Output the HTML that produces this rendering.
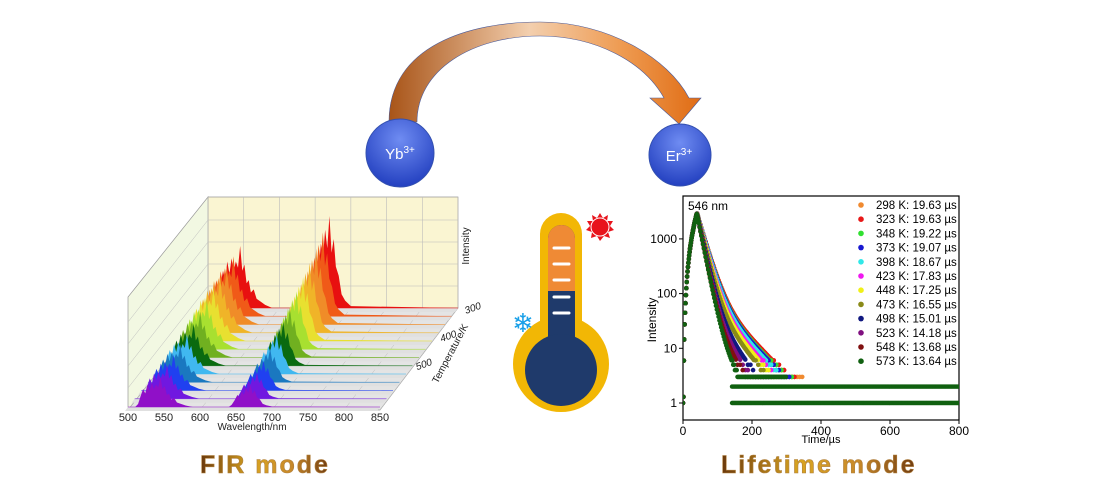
<!DOCTYPE html>
<html><head><meta charset="utf-8">
<style>
body{margin:0;background:#fff;}
svg{display:block;font-family:"Liberation Sans",sans-serif;}
</style></head>
<body>
<svg id="root" width="1094" height="500" viewBox="0 0 1094 500" xmlns="http://www.w3.org/2000/svg">
<defs>
 <linearGradient id="arrowGrad" x1="0" y1="0" x2="1" y2="0">
  <stop offset="0" stop-color="#a85418"/><stop offset="0.45" stop-color="#f3cfae"/><stop offset="0.75" stop-color="#ee9a50"/><stop offset="1" stop-color="#e06c14"/>
 </linearGradient>
 <radialGradient id="ballGrad" cx="0.5" cy="0.3" r="0.7">
  <stop offset="0" stop-color="#6f8cf2"/><stop offset="1" stop-color="#2340c0"/>
 </radialGradient>
 <linearGradient id="titleGrad" x1="0" y1="0" x2="1" y2="0">
  <stop offset="0" stop-color="#6a380c"/><stop offset="0.4" stop-color="#d9a520"/><stop offset="0.7" stop-color="#c98a2a"/><stop offset="1" stop-color="#6e3a10"/>
 </linearGradient>
</defs>

<path d="M389,122 C389,45 470,22 540,22 C608,22 668,58 689,98 L701,98 L679,124 L650,98 L664,98 C644,62 596,36 540,36 C472,36 417,70 417,122 Z" fill="url(#arrowGrad)" stroke="#4a5a9a" stroke-width="0.6"/>
<g>
 <circle cx="400" cy="153" r="34" fill="url(#ballGrad)" stroke="#3350b0" stroke-width="1"/>
 <text x="400" y="159" text-anchor="middle" fill="#fff" font-size="15">Yb<tspan font-size="10" dy="-6">3+</tspan></text>
</g>
<g>
 <circle cx="680" cy="155" r="31" fill="url(#ballGrad)" stroke="#3350b0" stroke-width="1"/>
 <text x="679" y="161" text-anchor="middle" fill="#fff" font-size="15">Er<tspan font-size="10" dy="-6">3+</tspan></text>
</g>

<g>
 <rect x="540" y="213" width="42" height="150" rx="21" fill="#f2b705"/>
 <circle cx="561" cy="364" r="48" fill="#f2b705"/>
 <rect x="548" y="225" width="27" height="150" rx="13.5" fill="#1f3a6b"/>
 <path d="M548,291 L548,238.5 A13.5,13.5 0 0 1 575,238.5 L575,291 Z" fill="#ef8a35"/>
 <circle cx="561" cy="370" r="36" fill="#1f3a6b"/>
 <g stroke="#fff" stroke-width="3" stroke-linecap="round">
  <line x1="554" y1="248" x2="569" y2="248"/><line x1="554" y1="264" x2="569" y2="264"/><line x1="554" y1="280" x2="569" y2="280"/><line x1="554" y1="297" x2="569" y2="297"/><line x1="554" y1="313" x2="569" y2="313"/>
 </g>
</g>
<g>
 <polygon points="600,213 603,218 608,215 607,221 613,221 610,226 614,230 608,232 610,238 604,236 600,241 597,236 591,238 592,232 586,230 590,226 587,221 593,221 592,215 597,218" fill="#e8141c"/>
 <circle cx="600" cy="227" r="9" fill="#e8141c" stroke="#fff" stroke-width="1"/>
</g>
<text x="523" y="332" text-anchor="middle" font-family="DejaVu Sans" font-size="26" fill="#1aa0e8">❄</text>

<g id="fir"></g>
<g id="lt"></g>

<text x="200" y="473" font-size="25" font-weight="bold" letter-spacing="2" fill="url(#titleGrad)" stroke="#b08040" stroke-width="0.6">FIR mode</text>
<text x="721" y="473" font-size="25" font-weight="bold" letter-spacing="2" fill="url(#titleGrad)" stroke="#b08040" stroke-width="0.6">Lifetime mode</text>
</svg>

<script>
var NS="http://www.w3.org/2000/svg";
function mk(tag,attrs,parent,txt){var e=document.createElementNS(NS,tag);for(var k in attrs)e.setAttribute(k,attrs[k]);if(txt!==undefined)e.textContent=txt;parent.appendChild(e);return e;}

/* ---------- FIR 3D spectra data ---------- */
var firWaveTicks=[500,550,600,650,700,750,800,850];
var firTempTicks=[300,400,500];
var firRowColors=["#e81010","#f05a18","#f08c28","#f0b428","#e8e030","#a8e030","#70b020","#0a6a10","#40b8f0","#1a78c0","#2040f0","#7018e0","#9010c8"];
var firGreenScale=[62,60,58,56,54,50,46,42,40,38,36,34,30];
var firRedScale=[92,84,76,70,64,58,50,44,40,34,30,26,22];
var firWl=[500,510,514,518,521,524,527,530,533,536,539,542,545,548,551,554,557,560,564,568,574,580,590,640,644,648,652,655,658,661,664,667,670,673,676,679,683,687,692,700,850];
var firProfileG=[0,0,0.1,0.4,0.6,0.45,0.75,0.55,0.8,0.6,0.75,0.65,1.0,0.6,0.7,0.4,0.45,0.25,0.3,0.15,0.1,0.05,0,0,0,0,0,0,0,0,0,0,0,0,0,0,0,0,0,0,0];
var firProfileR=[0,0,0,0,0,0,0,0,0,0,0,0,0,0,0,0,0,0,0,0,0,0,0,0,0.1,0.3,0.55,0.4,0.7,0.55,0.85,0.65,1.0,0.6,0.75,0.45,0.35,0.15,0.08,0.02,0];

(function(){
 var g=document.getElementById('fir');
 var back={l:208,r:458,t:197,b:308}, front={l:128,r:380,t:297,b:410};
 var nRows=firRowColors.length;
 function rowBase(i){var f=i/(nRows-1);return {y:back.b+f*(407-back.b), x0:back.l+f*(front.l-back.l), x1:back.r+f*(front.r-back.r)};}
 function X(row,nm){var b=rowBase(row);return b.x0+(nm-500)/350*(b.x1-b.x0);}
 var w=mk('polygon',{points:[back.l,back.t,back.r,back.t,back.r,back.b,back.l,back.b].join(','),fill:'#faf5d2',stroke:'#999','stroke-width':0.7},g);
 
 
 var lw=mk('polygon',{points:[back.l,back.t,back.l,back.b,front.l,front.b,front.l,front.t].join(','),fill:'#f2f8e2',stroke:'#999','stroke-width':0.7},g);
 
 
 var fl=mk('polygon',{points:[back.l,back.b,back.r,back.b,front.r,front.b,front.l,front.b].join(','),fill:'#e4e4e4',stroke:'#999','stroke-width':0.7},g);
 
 
 for(var i=0;i<firWaveTicks.length;i++){var x=back.l+(firWaveTicks[i]-500)/350*(back.r-back.l);mk('line',{x1:x,y1:back.t,x2:x,y2:back.b,stroke:'#bbb','stroke-width':0.6},g);
   var xf=front.l+(firWaveTicks[i]-500)/350*(front.r-front.l);mk('line',{x1:x,y1:back.b,x2:xf,y2:front.b,stroke:'#bbb','stroke-width':0.5},g);}
 for(var k=1;k<5;k++){var y=back.b-k*22;mk('line',{x1:back.l,y1:y,x2:back.r,y2:y,stroke:'#bbb','stroke-width':0.6},g);
   mk('line',{x1:back.l,y1:y,x2:front.l,y2:y+(front.b-back.b),stroke:'#bbb','stroke-width':0.5},g);}
 for(var r=0;r<nRows;r++){
  var b=rowBase(r);
  var pts=[];
  for(var j=0;j<firWl.length;j++){var h=firProfileG[j]*firGreenScale[r]+firProfileR[j]*firRedScale[r];pts.push(X(r,firWl[j])+','+(b.y-h));}
  pts.push(X(r,850)+','+b.y);pts.push(X(r,500)+','+b.y);
  var rib=mk('polygon',{points:[X(r,500),b.y,X(r,850),b.y,X(r,850)-3,b.y+4,X(r,500)-3,b.y+4].join(','),fill:'#e0e0e0'},g);
  
  
  var sp=mk('polygon',{points:pts.join(' '),fill:firRowColors[r]},g);
  
  
  mk('line',{x1:X(r,500),y1:b.y,x2:X(r,850),y2:b.y,stroke:firRowColors[r],'stroke-width':0.8,opacity:0.7},g);
 }
 for(var i=0;i<firWaveTicks.length;i++){var x=front.l+(firWaveTicks[i]-500)/350*(front.r-front.l);
  var t=mk('text',{x:x,y:421,'text-anchor':'middle','font-size':11,fill:'#222'},g,firWaveTicks[i]);
  
  }
 var xt=mk('text',{x:252,y:430,'text-anchor':'middle','font-size':10,fill:'#222'},g,'Wavelength/nm');
 
 
 for(var i=0;i<firTempTicks.length;i++){var f=(firTempTicks[i]-300)/270;var x=466-f*(466-400),y=314+f*(414-314)*0.76;
  var t=mk('text',{x:x,y:y,'font-size':10,'font-style':'italic',fill:'#222',transform:'rotate(-20 '+x+' '+y+')'},g,firTempTicks[i]);
  
  }
 var tt=mk('text',{x:0,y:0,'font-size':10,fill:'#222','text-anchor':'middle',transform:'translate(453,355) rotate(-62)'},g,'Temperature/K');
 
 
 var it=mk('text',{x:0,y:0,'font-size':10,fill:'#222','text-anchor':'middle',transform:'translate(469,246) rotate(-90)'},g,'Intensity');
 
 
})();

/* ---------- Lifetime chart data ---------- */
var ltTemps=[298,323,348,373,398,423,448,473,498,523,548,573];
var ltLifetimes=[19.63,19.63,19.22,19.07,18.67,17.83,17.25,16.55,15.01,14.18,13.68,13.64];
var ltColors=["#f08a30","#e81818","#30e030","#1818d0","#30e8e8","#f018f0","#f0f018","#8a8a18","#101880","#801080","#801010","#106010"];
var ltPeak=[2900,2900,2900,2900,2900,2900,2900,2900,2900,2900,2900,2900];
var ltTailFrac=[0.05,0.05,0.048,0.046,0.044,0.042,0.04,0.036,0.03,0.025,0.02,0.012];
var ltTailCutoff=[350,330,320,310,300,290,280,270,260,250,240,300];
var ltXTicks=[0,200,400,600,800];
var ltYTicks=[1,10,100,1000];

(function(){
 var g=document.getElementById('lt');
 var L=683,R=959,T=196,B=420;
 function X(t){return L+(t/800)*(R-L);}
 function Y(v){return 403-54.7*Math.log10(v);}
 var frame=mk('rect',{x:L,y:T,width:R-L,height:B-T,fill:'#fff',stroke:'#000','stroke-width':1.2},g);
 
 
 var clip=mk('clipPath',{id:'ltclip'},g);mk('rect',{x:L,y:T,width:R-L,height:B-T},clip);
 var pg=mk('g',{'clip-path':'url(#ltclip)'},g);
 var floorLevels=[1,2];
 for(var f=0;f<floorLevels.length;f++){
  for(var t=142;t<=800;t+=2.5){
   var d=mk('circle',{cx:X(t),cy:Y(floorLevels[f]),r:2.2,fill:ltColors[11]},pg);
   
   
  }
 }
 for(var s=0;s<ltTemps.length;s++){
  var tau=ltLifetimes[s],pk=ltPeak[s];
  var step=0;
  for(var t=0;t<=800;t+=(t<45?1.2:2.5)){
   step++;
   var v;
   if(t<40){v=Math.max(1,pk*Math.pow(t/40,2.2));}
   else{v=pk*Math.exp(-(t-40)/tau)+ltTailFrac[s]*pk*Math.exp(-(t-40)/(3.5*tau));}
   if(v<6 && t>40){ if(t>ltTailCutoff[s]) break; v=Math.max(3,Math.round(v)); if(step%3!==0 && s!==11) continue;}
   var d=mk('circle',{cx:X(t),cy:Y(v),r:2.3,fill:ltColors[s]},pg);
   
   
  }
 }
 for(var i=0;i<ltXTicks.length;i++){var x=X(ltXTicks[i]);mk('line',{x1:x,y1:B,x2:x,y2:B+4,stroke:'#000'},g);
  var t=mk('text',{x:x,y:B+15,'text-anchor':'middle','font-size':12,fill:'#000'},g,ltXTicks[i]);
  
  }
 for(var i=0;i<ltYTicks.length;i++){var y=Y(ltYTicks[i]);mk('line',{x1:L-4,y1:y,x2:L,y2:y,stroke:'#000'},g);
  var t=mk('text',{x:L-6,y:y+4,'text-anchor':'end','font-size':12,fill:'#000'},g,ltYTicks[i]);
  
  }
 var xt=mk('text',{x:821,y:443,'text-anchor':'middle','font-size':11,fill:'#000'},g,'Time/µs');
 
 
 var yt=mk('text',{x:0,y:0,'text-anchor':'middle','font-size':12,fill:'#000',transform:'translate(656,320) rotate(-90)'},g,'Intensity');
 
 
 var ann=mk('text',{x:688,y:210,'font-size':12,fill:'#000'},g,'546 nm');
 
 
 for(var i=0;i<ltTemps.length;i++){
  var y=205+i*14.2;
  var d=mk('circle',{cx:861,cy:y,r:2.8,fill:ltColors[i]},g);
  
  
  var t=mk('text',{x:876,y:y+4,'font-size':11.5,fill:'#000'},g,ltTemps[i]+' K: '+ltLifetimes[i].toFixed(2)+' µs');
  
  
 }
})();
</script>
</body></html>
